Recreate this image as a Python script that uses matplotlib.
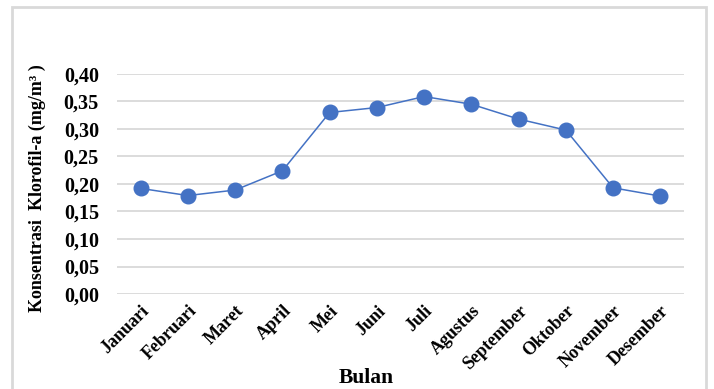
import matplotlib
matplotlib.use("Agg")
import matplotlib.pyplot as plt
from matplotlib.patches import Rectangle
from matplotlib.ticker import FuncFormatter, MultipleLocator

plt.rcParams['font.family'] = ['Liberation Serif', 'DejaVu Serif']
plt.rcParams['font.weight'] = 'bold'

# monthly chlorophyll-a concentration
bulan = ['Januari', 'Februari', 'Maret', 'April', 'Mei', 'Juni', 'Juli',
         'Agustus', 'September', 'Oktober', 'November', 'Desember']
klorofil = [0.192, 0.179, 0.189, 0.224, 0.330, 0.339, 0.359,
            0.345, 0.318, 0.298, 0.193, 0.178]

LINE_COLOR = '#4472C4'
GRID_COLOR = '#D9D9D9'

fig = plt.figure(figsize=(7.14, 3.89), dpi=100)
ax = fig.add_axes([0.1639, 0.2442, 0.7941, 0.5656])

# chart frame
fig.patches.append(Rectangle((12 / 714, -0.05), (706 - 12) / 714, 1.05 - 7 / 389,
                             transform=fig.transFigure, fill=False,
                             edgecolor=GRID_COLOR, linewidth=2))

x = list(range(len(bulan)))
ax.plot(x, klorofil, color=LINE_COLOR, linewidth=1.1, marker='o',
        markersize=10.5, markerfacecolor=LINE_COLOR, markeredgecolor=LINE_COLOR,
        zorder=3)

ax.set_xlim(-0.5, len(bulan) - 0.5)
ax.set_ylim(0, 0.4)
ax.yaxis.set_major_locator(MultipleLocator(0.05))
ax.yaxis.set_major_formatter(FuncFormatter(lambda v, p: f'{v:.2f}'.replace('.', ',')))
ax.grid(axis='y', color=GRID_COLOR, linewidth=1.3)
ax.set_axisbelow(True)
for s in ax.spines.values():
    s.set_visible(False)

ax.set_xticks(x)
ax.set_xticklabels(bulan, rotation=45, ha='right', rotation_mode='anchor')
ax.tick_params(axis='x', length=0, pad=6, labelsize=13)
ax.tick_params(axis='y', length=0, pad=13, labelsize=14.5)

fig.text(366 / 714, 1 - 378 / 389, 'Bulan', ha='center', va='center',
         fontsize=15.5, fontweight='bold')
fig.text(37 / 714, 1 - 188 / 389, 'Konsentrasi  Klorofil-a (mg/m³ )',
         rotation=90, ha='center', va='center', fontsize=13, fontweight='bold')

fig.savefig('out.png', dpi=100)
